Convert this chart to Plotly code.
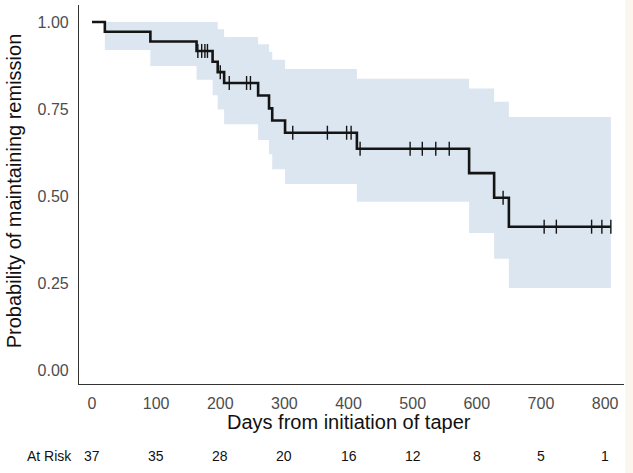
import plotly.graph_objects as go
import numpy as np

# ---- data ----
step_times = [0, 20, 91, 163, 188, 196, 206, 259, 276, 281, 301, 413, 588, 627, 650]
step_surv = [1.0, 0.972, 0.944, 0.917, 0.886, 0.856, 0.825, 0.789, 0.752, 0.717, 0.682, 0.636, 0.566, 0.495, 0.412]
end_time = 809

censor_times = [165, 171, 176, 180, 200, 214, 241, 247, 313, 367, 397, 404, 418,
                496, 515, 536, 557, 641, 705, 724, 779, 795, 809]

ci_times = [20, 91, 163, 188, 196, 206, 259, 276, 281, 301, 413, 588, 627, 650, 809]
ci_upper = [1.0, 1.0, 1.0, 1.0, 0.979, 0.957, 0.936, 0.915, 0.892, 0.865, 0.837, 0.809, 0.771, 0.727, 0.727]
ci_lower = [0.92, 0.874, 0.834, 0.79, 0.749, 0.706, 0.661, 0.62, 0.577, 0.535, 0.484, 0.394, 0.32, 0.236, 0.236]

x_ticks = [0, 100, 200, 300, 400, 500, 600, 700, 800]
y_ticks = [0.0, 0.25, 0.5, 0.75, 1.0]
y_ticklabels = ["0.00", "0.25", "0.50", "0.75", "1.00"]
at_risk = [37, 35, 28, 20, 16, 12, 8, 5, 1]

x_title = "Days from initiation of taper"
y_title = "Probability of maintaining remission"

# ---- styling ----
LINE = "#141414"
BAND = "#DCE6F1"
FONT = "Liberation Sans, Arial, sans-serif"
RISK_FONT = "Liberation Sans Narrow, Arial Narrow, Liberation Sans, Arial, sans-serif"

fig = go.Figure()

# confidence band
fig.add_trace(go.Scatter(x=ci_times, y=ci_lower, mode="lines", line=dict(width=0, shape="hv"),
                         hoverinfo="skip", showlegend=False))
fig.add_trace(go.Scatter(x=ci_times, y=ci_upper, mode="lines", line=dict(width=0, shape="hv"),
                         fill="tonexty", fillcolor=BAND, hoverinfo="skip", showlegend=False))

# survival curve
curve_x = step_times + [end_time]
curve_y = step_surv + [step_surv[-1]]
fig.add_trace(go.Scatter(x=curve_x, y=curve_y, mode="lines",
                         line=dict(color=LINE, width=2.6, shape="hv"), showlegend=False))

# censor marks
idx = np.searchsorted(np.array(step_times), np.array(censor_times), side="right") - 1
censor_y = [step_surv[i] for i in idx]
fig.add_trace(go.Scatter(x=censor_times, y=censor_y, mode="markers",
                         marker=dict(symbol="line-ns", size=10, line=dict(color=LINE, width=1.4)),
                         showlegend=False))

# at-risk row
for t, n in zip(x_ticks, at_risk):
    fig.add_annotation(x=t, y=-0.19, xref="x", yref="paper", text=str(n), showarrow=False,
                       font=dict(family=RISK_FONT, size=14, color="#111111"),
                       xanchor="center", yanchor="middle")
fig.add_annotation(x=-0.01, y=-0.19, xref="paper", yref="paper", text="At Risk", showarrow=False,
                   font=dict(family=RISK_FONT, size=14, color="#111111"),
                   xanchor="right", yanchor="middle")

# axis titles
fig.add_annotation(x=0.495, y=-0.1, xref="paper", yref="paper", text=x_title, showarrow=False,
                   font=dict(family=FONT, size=20, color="#111111"), xanchor="center", yanchor="middle")
fig.add_annotation(x=-0.12, y=0.51, xref="paper", yref="paper", text=y_title, showarrow=False,
                   textangle=-90, font=dict(family=FONT, size=20, color="#111111"),
                   xanchor="center", yanchor="middle")

# cream strip at the right edge
fig.add_shape(type="rect", xref="paper", yref="paper", x0=1.002, x1=1.03, y0=-0.3, y1=1.02,
              fillcolor="#FCF7EE", line=dict(width=0), layer="below")

fig.update_layout(
    width=633, height=473,
    margin=dict(l=79, r=9, t=5, b=89),
    paper_bgcolor="white", plot_bgcolor="white",
    font=dict(family=FONT),
    xaxis=dict(range=[-20.3, 829.5], tickvals=x_ticks, showgrid=False, zeroline=False,
               showline=True, linecolor="#333333", linewidth=1.2,
               ticks="outside", ticklen=5, tickcolor="rgba(0,0,0,0)",
               tickfont=dict(family=FONT, size=16, color="#4D4D4D")),
    yaxis=dict(range=[-0.04, 1.049], tickvals=y_ticks, ticktext=y_ticklabels, showgrid=False,
               zeroline=False, showline=True, linecolor="#333333", linewidth=1.2,
               ticks="outside", ticklen=6, tickcolor="rgba(0,0,0,0)",
               tickfont=dict(family=FONT, size=16, color="#4D4D4D")),
)

fig.write_html("out.html")
